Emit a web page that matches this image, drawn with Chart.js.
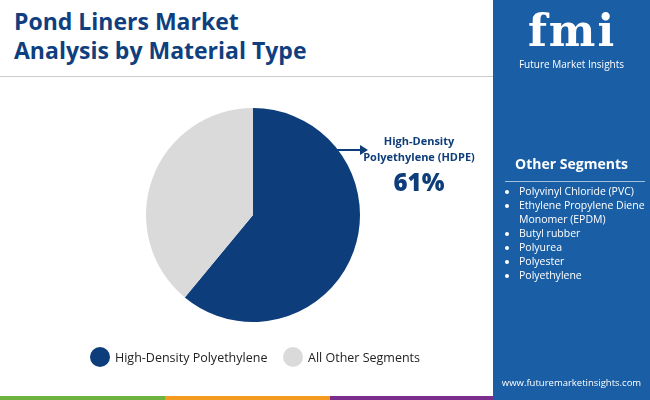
<!DOCTYPE html><html><head><meta charset="utf-8">
<script src="https://cdn.jsdelivr.net/npm/chart.js@4/dist/chart.umd.min.js"></script>
<style>
body{margin:0;width:650px;height:400px;position:relative;overflow:hidden;font-family:"Open Sans",sans-serif;background:#fff}
.t{position:absolute;color:#0d3d7a}
</style></head><body>
<div class="t" style="left:14px;top:7px;font:700 23px/29px 'Open Sans',sans-serif;color:#0f3f7e">Pond Liners Market<br>Analysis by Material Type</div>
<div style="position:absolute;left:0;top:76px;width:493px;height:1px;background:#ccc"></div>
<div style="position:absolute;left:141px;top:103px;width:224px;height:224px"><canvas id="c"></canvas></div>
<svg style="position:absolute;left:0;top:0" width="493" height="400"><line x1="337" y1="150" x2="362" y2="150" stroke="#0d3d7a" stroke-width="2"/><polygon points="368,150 360,145 360,155" fill="#0d3d7a"/></svg>
<div class="t" style="left:356px;top:133px;width:126px;text-align:center;font:700 11px/16px 'Open Sans',sans-serif;white-space:nowrap">High-Density<br>Polyethylene (HDPE)</div>
<div class="t" style="left:356px;top:165px;width:126px;text-align:center;font:800 24px 'Open Sans',sans-serif">61%</div>
<div style="position:absolute;left:90px;top:347px;width:20px;height:20px;border-radius:50%;background:#0d3d7a"></div>
<div class="t" style="left:115px;top:349px;font:12.5px 'Open Sans',sans-serif;color:#222">High-Density Polyethylene</div>
<div style="position:absolute;left:283px;top:347px;width:20px;height:20px;border-radius:50%;background:#dadada"></div>
<div class="t" style="left:308px;top:349px;font:12.5px 'Open Sans',sans-serif;color:#222">All Other Segments</div>
<div style="position:absolute;left:0;top:396px;width:165px;height:4px;background:#6cb33f"></div>
<div style="position:absolute;left:165px;top:396px;width:165px;height:4px;background:#f39a1f"></div>
<div style="position:absolute;left:330px;top:396px;width:163px;height:4px;background:#7b2d8e"></div>
<div style="position:absolute;left:493px;top:0;width:157px;height:400px;background:#1a5fa6;color:#fff">
 <div style="position:absolute;left:24px;top:6px;width:110px;text-align:center;font:900 44px/50px 'DejaVu Serif',serif;letter-spacing:2px">fmi</div>
 <div style="position:absolute;left:0;top:57px;width:157px;text-align:center;font:10px 'Open Sans',sans-serif">Future Market Insights</div>
 <div style="position:absolute;left:0;top:154px;width:157px;text-align:center;font:700 14px 'Open Sans',sans-serif">Other Segments</div>
 <div style="position:absolute;left:12px;top:181px;width:140px;height:1px;background:#9fbde0"></div>
 <ul style="position:absolute;left:0;top:184px;margin:0;padding-left:26px;font:10.5px/14px 'Open Sans',sans-serif;width:128px">
 <li>Polyvinyl Chloride (PVC)</li><li>Ethylene Propylene Diene Monomer (EPDM)</li><li>Butyl rubber</li><li>Polyurea</li><li>Polyester</li><li>Polyethylene</li></ul>
 <div style="position:absolute;left:0;top:376px;width:157px;text-align:center;font:9.5px 'Open Sans',sans-serif">www.futuremarketinsights.com</div>
</div>
<script>
const categories=["High-Density Polyethylene","All Other Segments"];
const shares=[61,39];
const colors=["#0d3d7a","#dadada"];
new Chart(document.getElementById('c'),{type:'pie',data:{labels:categories,datasets:[{data:shares,backgroundColor:colors,borderWidth:0}]},
options:{responsive:true,maintainAspectRatio:false,animation:false,plugins:{legend:{display:false},tooltip:{enabled:false}},layout:{padding:5}}});
</script></body></html>
